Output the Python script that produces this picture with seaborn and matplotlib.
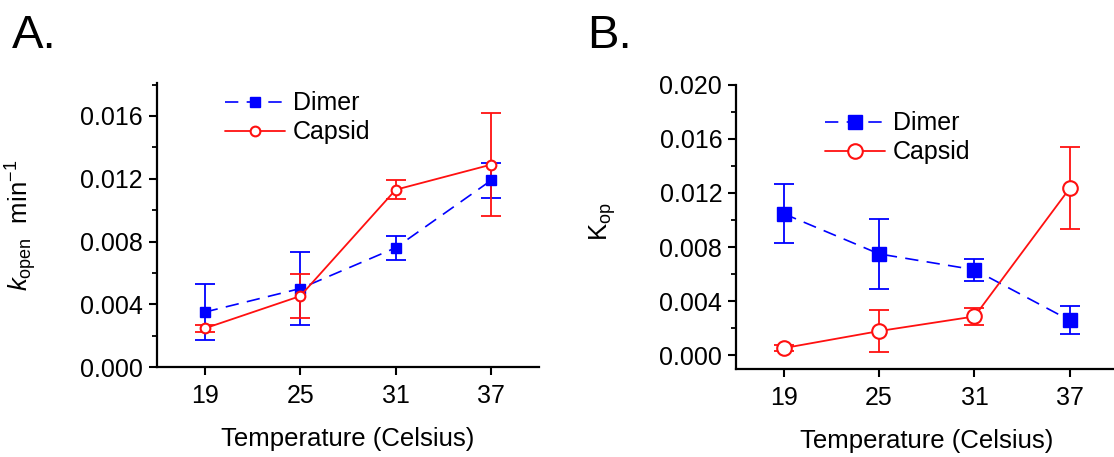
import numpy as np
import seaborn as sns
import matplotlib
matplotlib.use("Agg")
import matplotlib.pyplot as plt
from matplotlib.ticker import MultipleLocator

sns.set_style("ticks")
plt.rcParams['font.family'] = ['Liberation Sans', 'DejaVu Sans']
plt.rcParams['text.color'] = 'black'
plt.rcParams['axes.labelcolor'] = 'black'
plt.rcParams['mathtext.fontset'] = 'custom'
plt.rcParams['mathtext.rm'] = 'Liberation Sans'
plt.rcParams['mathtext.it'] = 'Liberation Sans:italic'

# data
temps = [19, 25, 31, 37]

# panel A: k_open (min^-1)
a_dimer = [0.0035, 0.0050, 0.0076, 0.0119]
a_dimer_err = [0.00176, 0.0023, 0.00078, 0.00113]
a_capsid = [0.00246, 0.00452, 0.0113, 0.0129]
a_capsid_err = [0.0002, 0.0014, 0.0006, 0.0033]

# panel B: K_op
b_dimer = [0.01047, 0.0075, 0.00633, 0.00259]
b_dimer_err = [0.0022, 0.0026, 0.0008, 0.00104]
b_capsid = [0.00054, 0.0018, 0.00288, 0.01236]
b_capsid_err = [0.0002, 0.00156, 0.0006, 0.003]

BLUE = '#0000FF'
RED = '#FF1010'

fig = plt.figure(figsize=(11.14, 4.57), dpi=100)
axA = fig.add_axes([0.1409, 0.1969, 0.3429, 0.6214])
axB = fig.add_axes([0.6607, 0.1926, 0.3425, 0.6221])


def draw(ax, dimer, dimer_err, capsid, capsid_err, ms_sq, ms_ci):
    ax.errorbar(temps, dimer, yerr=dimer_err, fmt='none', ecolor=BLUE,
                elinewidth=1.3, capsize=7.5, capthick=1.3, zorder=2)
    ax.errorbar(temps, capsid, yerr=capsid_err, fmt='none', ecolor=RED,
                elinewidth=1.3, capsize=7.5, capthick=1.3, zorder=2)
    sns.lineplot(x=temps, y=dimer, ax=ax, color=BLUE, lw=1.2,
                 linestyle=(0, (8, 5)), marker='s', markersize=ms_sq,
                 markerfacecolor=BLUE, markeredgecolor=BLUE,
                 markeredgewidth=1, label='Dimer', zorder=3)
    sns.lineplot(x=temps, y=capsid, ax=ax, color=RED, lw=1.3,
                 marker='o', markersize=ms_ci, markerfacecolor='white',
                 markeredgecolor=RED, markeredgewidth=1.5,
                 label='Capsid', zorder=4)
    ax.set_xlim(16, 40)
    ax.set_xticks(temps)
    ax.set_xticklabels([str(t) for t in temps])
    ax.yaxis.set_major_locator(MultipleLocator(0.004))
    ax.yaxis.set_minor_locator(MultipleLocator(0.002))
    ax.yaxis.set_major_formatter(matplotlib.ticker.FormatStrFormatter('%.3f'))
    for s in ['top', 'right']:
        ax.spines[s].set_visible(False)
    for s in ['left', 'bottom']:
        ax.spines[s].set_linewidth(1.6)
        ax.spines[s].set_color('black')
    ax.tick_params(axis='both', which='major', direction='out', length=6,
                   width=1.5, labelsize=18, colors='black', pad=4)
    ax.tick_params(axis='x', pad=6)
    ax.tick_params(axis='y', which='minor', direction='out', length=3.5,
                   width=1.3, colors='black')
    ax.set_xlabel('Temperature (Celsius)', fontsize=18.5, labelpad=14)


draw(axA, a_dimer, a_dimer_err, a_capsid, a_capsid_err, 7, 7)
axA.set_ylim(0, 0.0181)
axA.set_ylabel(r'$\mathit{k}_{\mathrm{open}}$  min$^{\mathrm{-1}}$', fontsize=18.5)
axA.yaxis.set_label_coords(-0.31, 0.5)
axA.legend(loc='upper left', bbox_to_anchor=(0.12, 1.05), frameon=False,
           fontsize=18, handlelength=2.4, handletextpad=0.3,
           labelspacing=0.2)

draw(axB, b_dimer, b_dimer_err, b_capsid, b_capsid_err, 10, 10.5)
axB.set_ylim(-0.001, 0.020)
axB.set_ylabel(r'K$_{\mathrm{op}}$', fontsize=18.5)
axB.yaxis.set_label_coords(-0.31, 0.52)
axB.legend(loc='upper left', bbox_to_anchor=(0.175, 0.985), frameon=False,
           fontsize=18, handlelength=2.4, handletextpad=0.3,
           labelspacing=0.2)

fig.text(0.011, 0.895, 'A.', fontsize=34)
fig.text(0.527, 0.895, 'B.', fontsize=34)

fig.savefig('out.png', dpi=100)
